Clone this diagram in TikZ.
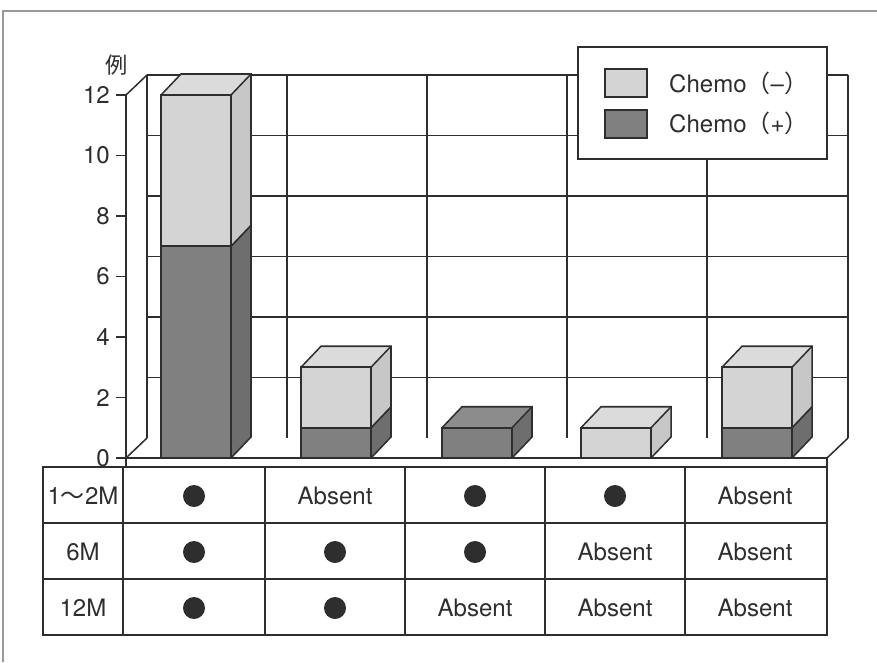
\documentclass[tikz,border=0pt]{standalone}
\usepackage{fontspec}
\setmainfont{TeX Gyre Heros}
\newfontfamily\cjk{Noto Sans CJK JP}
\newcommand\ypos[1]{458-30.25*#1}
\begin{document}
\begin{tikzpicture}[x=0.03cm,y=-0.03cm, line join=miter,
  ln/.style={line width=1.3pt, draw=black!82},
  litefr/.style={fill=black!17},
  litesd/.style={fill=black!22},
  litetp/.style={fill=black!14},
  darkfr/.style={fill=black!50},
  darksd/.style={fill=black!57},
  darktp/.style={fill=black!45},
  lbl/.style={font=\fontsize{20.5}{24}\selectfont, text=black!82, inner sep=0pt},
  dot/.style={fill=black!82}]
\useasboundingbox (0,0) rectangle (877,662);
% outer page frame (partial)
\draw[black!40, line width=1.2pt] (3,662) -- (3,11) -- (877,11);

% back wall grid
\foreach \v in {2,4,...,12} \draw[ln] (147,{438-30.25*\v}) -- (848,{438-30.25*\v});
\foreach \x in {147,287,427,567,707,848} \draw[ln] (\x,75) -- (\x,438);
% side wall & floor
\draw[ln] (126,95) -- (147,75);
\draw[ln] (126,458) -- (147,438);
\draw[ln] (848,438) -- (827,458);
\draw[ln] (126,458) -- (827,458) -- (827,467);
% axis
\draw[ln] (126,95) -- (126,467);
\foreach \v in {0,2,...,12} {
  \draw[ln] (116,{\ypos{\v}}) -- (126,{\ypos{\v}});
  \node[lbl, anchor=east] (t\v) at (110,{\ypos{\v}}) {\v};
}
\node[lbl, font=\cjk\fontsize{19}{22}\selectfont] (unit) at (117,65) {例};

% bars: \seg{cx}{v0}{v1}{type}
\newcommand\seg[4]{%
  \fill[#4fr] ({#1-35},{\ypos{#2}}) rectangle ({#1+35},{\ypos{#3}});
  \fill[#4sd] ({#1+35},{\ypos{#2}}) -- ({#1+55},{\ypos{#2}-21}) -- ({#1+55},{\ypos{#3}-21}) -- ({#1+35},{\ypos{#3}}) -- cycle;
  \fill[#4tp] ({#1-35},{\ypos{#3}}) -- ({#1-15},{\ypos{#3}-21}) -- ({#1+55},{\ypos{#3}-21}) -- ({#1+35},{\ypos{#3}}) -- cycle;
  \draw[ln] ({#1-35},{\ypos{#2}}) rectangle ({#1+35},{\ypos{#3}});
  \draw[ln] ({#1+35},{\ypos{#2}}) -- ({#1+55},{\ypos{#2}-21}) -- ({#1+55},{\ypos{#3}-21}) -- ({#1-15},{\ypos{#3}-21}) -- ({#1-35},{\ypos{#3}});
  \draw[ln] ({#1+35},{\ypos{#3}}) -- ({#1+55},{\ypos{#3}-21});
}
\seg{196}{0}{7}{dark}
\seg{196}{7}{12}{lite}
\seg{336}{0}{1}{dark}
\seg{336}{1}{3}{lite}
\seg{477}{0}{1}{dark}
\seg{616}{0}{1}{lite}
\seg{757}{0}{1}{dark}
\seg{757}{1}{3}{lite}

% legend
\draw[ln, fill=white] (578,47) rectangle (827,159);
\draw[line width=2pt, black!82] (578,159) -- (827,159) -- (827,47);
\draw[ln, litefr] (605,69) rectangle (647,97);
\draw[ln, darkfr] (605,110) rectangle (647,138);
\node[lbl, anchor=west] (lg1) at (669,83) {Chemo{\cjk （}–{\cjk ）}};
\node[lbl, anchor=west] (lg2) at (669,123) {Chemo{\cjk （}+{\cjk ）}};

% table
\draw[ln] (43,467) rectangle (827,635);
\foreach \y in {523,579} \draw[ln] (43,\y) -- (827,\y);
\foreach \x in {123,265,405,545,685} \draw[ln] (\x,467) -- (\x,635);
\node[lbl] (r1) at (83,496) {1{\cjk ～}2M};
\node[lbl] (r2) at (83,552) {6M};
\node[lbl] (r3) at (83,608) {12M};
% row 1
\fill[dot] (194,496) circle[radius=0.33cm];
\node[lbl] (a12) at (335,496) {Absent};
\fill[dot] (475,496) circle[radius=0.33cm];
\fill[dot] (615,496) circle[radius=0.33cm];
\node[lbl] (a15) at (755,496) {Absent};
% row 2
\fill[dot] (194,552) circle[radius=0.33cm];
\fill[dot] (335,552) circle[radius=0.33cm];
\fill[dot] (475,552) circle[radius=0.33cm];
\node[lbl] (a24) at (615,552) {Absent};
\node[lbl] (a25) at (755,552) {Absent};
% row 3
\fill[dot] (194,608) circle[radius=0.33cm];
\fill[dot] (335,608) circle[radius=0.33cm];
\node[lbl] (a33) at (475,608) {Absent};
\node[lbl] (a34) at (615,608) {Absent};
\node[lbl] (a35) at (755,608) {Absent};
\end{tikzpicture}
\end{document}
